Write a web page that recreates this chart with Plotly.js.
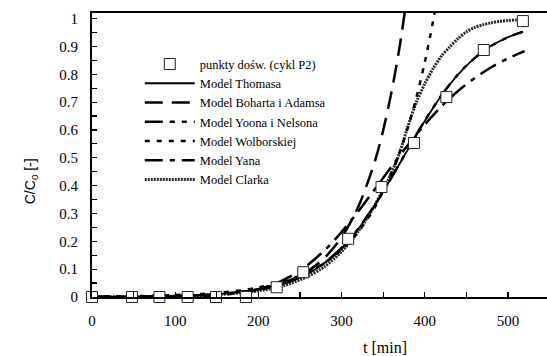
<!DOCTYPE html>
<html><head><meta charset="utf-8">
<script src="https://cdn.plot.ly/plotly-3.0.1.min.js"></script>
<style>html,body{margin:0;padding:0;overflow:hidden;background:#fff}</style>
</head><body><div id="chart" style="width:547px;height:356px"></div>
<script>
// Experimental points (cykl P2)
const expT = [0, 48, 81, 115, 149, 185, 222, 254, 308, 348, 387, 426, 471, 518];
const expY = [0, 0, 0, 0, 0, 0, 0.035, 0.089, 0.209, 0.395, 0.553, 0.718, 0.887, 0.991];

// Model Thomasa
const thomasT = [0, 40, 80, 120, 160, 200, 230, 260, 280, 300, 320, 340, 360, 380, 400, 420, 440, 460, 480, 500, 518];
const thomasY = [0.000, 0.001, 0.002, 0.005, 0.012, 0.026, 0.047, 0.085, 0.123, 0.175, 0.244, 0.330, 0.428, 0.531, 0.632, 0.723, 0.799, 0.858, 0.902, 0.933, 0.953];

// Model Boharta i Adamsa
const bohartT = [0, 50, 100, 150, 200, 230, 260, 280, 300, 320, 340, 350, 360, 370, 380];
const bohartY = [0.0005, 0.0013, 0.0035, 0.0099, 0.028, 0.051, 0.094, 0.142, 0.214, 0.323, 0.487, 0.598, 0.735, 0.902, 1.107];

// Model Yoona i Nelsona
const yoonT = [0, 40, 80, 120, 160, 200, 230, 260, 280, 300, 320, 340, 360, 380, 400, 420, 440, 460, 480, 500, 518];
const yoonY = [0.000, 0.001, 0.002, 0.005, 0.012, 0.026, 0.047, 0.086, 0.124, 0.176, 0.245, 0.331, 0.429, 0.532, 0.633, 0.724, 0.800, 0.858, 0.902, 0.933, 0.952];

// Model Wolborskiej
const wolbT = [0, 50, 100, 150, 200, 250, 280, 300, 320, 340, 360, 370, 380, 390, 400, 410, 420];
const wolbY = [0.0014, 0.0031, 0.0069, 0.015, 0.034, 0.076, 0.124, 0.170, 0.234, 0.322, 0.445, 0.521, 0.611, 0.717, 0.842, 0.990, 1.16];

// Model Yana
const yanT = [0, 100, 150, 200, 222, 250, 280, 300, 320, 340, 360, 380, 400, 420, 440, 460, 480, 500, 520];
const yanY = [0.000, 0.0005, 0.0053, 0.028, 0.050, 0.094, 0.169, 0.233, 0.307, 0.387, 0.468, 0.547, 0.619, 0.684, 0.740, 0.786, 0.825, 0.857, 0.883];

// Model Clarka
const clarkT = [0, 50, 100, 150, 200, 230, 260, 280, 300, 320, 340, 350, 360, 370, 380, 390, 400, 410, 420, 430, 440, 450, 460, 470, 480, 490, 500, 510, 518];
const clarkY = [0.000, 0.001, 0.003, 0.008, 0.022, 0.040, 0.075, 0.110, 0.163, 0.235, 0.330, 0.385, 0.445, 0.520, 0.615, 0.700, 0.765, 0.820, 0.865, 0.898, 0.928, 0.952, 0.968, 0.978, 0.985, 0.990, 0.993, 0.995, 0.996];

const names = ['punkty dośw. (cykl P2)', 'Model Thomasa', 'Model Boharta i Adamsa', 'Model Yoona i Nelsona', 'Model Wolborskiej', 'Model Yana', 'Model Clarka'];

function lineTrace(x, y, name, rank, line) {
  return {x: x, y: y, name: name, legendrank: rank, mode: 'lines', type: 'scatter',
          line: Object.assign({shape: 'spline', smoothing: 0.8}, line), hoverinfo: 'skip'};
}

const data = [
  lineTrace(clarkT, clarkY, names[6], 7, {color: '#2a2a2a', width: 3, dash: '2px,1px'}),
  lineTrace(thomasT, thomasY, names[1], 2, {color: '#000', width: 1.8}),
  lineTrace(yoonT, yoonY, names[3], 4, {color: '#000', width: 2.5, dash: '18px,7px,5px,7px,5px,7px'}),
  lineTrace(bohartT, bohartY, names[2], 3, {color: '#000', width: 2.5, dash: '18px,9px'}),
  lineTrace(wolbT, wolbY, names[4], 5, {color: '#000', width: 2.5, dash: '5px,7px'}),
  lineTrace(yanT, yanY, names[5], 6, {color: '#000', width: 2.5, dash: '18px,7px,5px,7px'}),
  {x: expT, y: expY, name: names[0], legendrank: 1, mode: 'markers', type: 'scatter',
   marker: {symbol: 'square', size: 11, color: '#fff', line: {color: '#222', width: 1}}, cliponaxis: false}
];

const axisCommon = {
  showline: true, linewidth: 2, linecolor: '#000', showgrid: false, zeroline: false,
  ticks: 'inside', ticklen: 5, tickwidth: 1.2, tickcolor: '#000',
  tickfont: {family: 'Liberation Serif', size: 15, color: '#000'}
};

const layout = {
  width: 547, height: 356,
  margin: {l: 92, r: 0, t: 13, b: 59},
  paper_bgcolor: '#fff', plot_bgcolor: '#fff',
  font: {family: 'Liberation Serif', color: '#000', size: 15},
  xaxis: Object.assign({}, axisCommon, {
    range: [0, 547], tick0: 0, dtick: 100, mirror: true, ticklabelstandoff: 9,
    minor: {dtick: 50, ticks: 'inside', ticklen: 5, tickwidth: 1.2, tickcolor: '#000', showgrid: false}
  }),
  yaxis: Object.assign({}, axisCommon, {
    range: [0, 1.02], tick0: 0, dtick: 0.1, ticklabelstandoff: 9,
    minor: {dtick: 0.05, ticks: 'inside', ticklen: 5, tickwidth: 1.2, tickcolor: '#000', showgrid: false}
  }),
  showlegend: true,
  legend: {x: 0.105, y: 0.872, xanchor: 'left', yanchor: 'top', bgcolor: 'rgba(0,0,0,0)',
           borderwidth: 0, itemwidth: 50, traceorder: 'normal',
           font: {family: 'Liberation Serif', size: 12.5, color: '#000'}},
  annotations: [
    {text: 'C/C<sub>0</sub> [-]', xref: 'paper', yref: 'paper', x: -0.158, y: 0.408,
     textangle: -90, showarrow: false, font: {family: 'Liberation Sans', size: 14, color: '#000'}},
    {text: 't [min]', xref: 'paper', yref: 'paper', x: 0.644, y: -0.178, yanchor: 'middle',
     showarrow: false, font: {family: 'Liberation Serif', size: 16, color: '#000'}}
  ]
};

Plotly.newPlot('chart', data, layout, {staticPlot: true, displayModeBar: false});
</script>
</body></html>
